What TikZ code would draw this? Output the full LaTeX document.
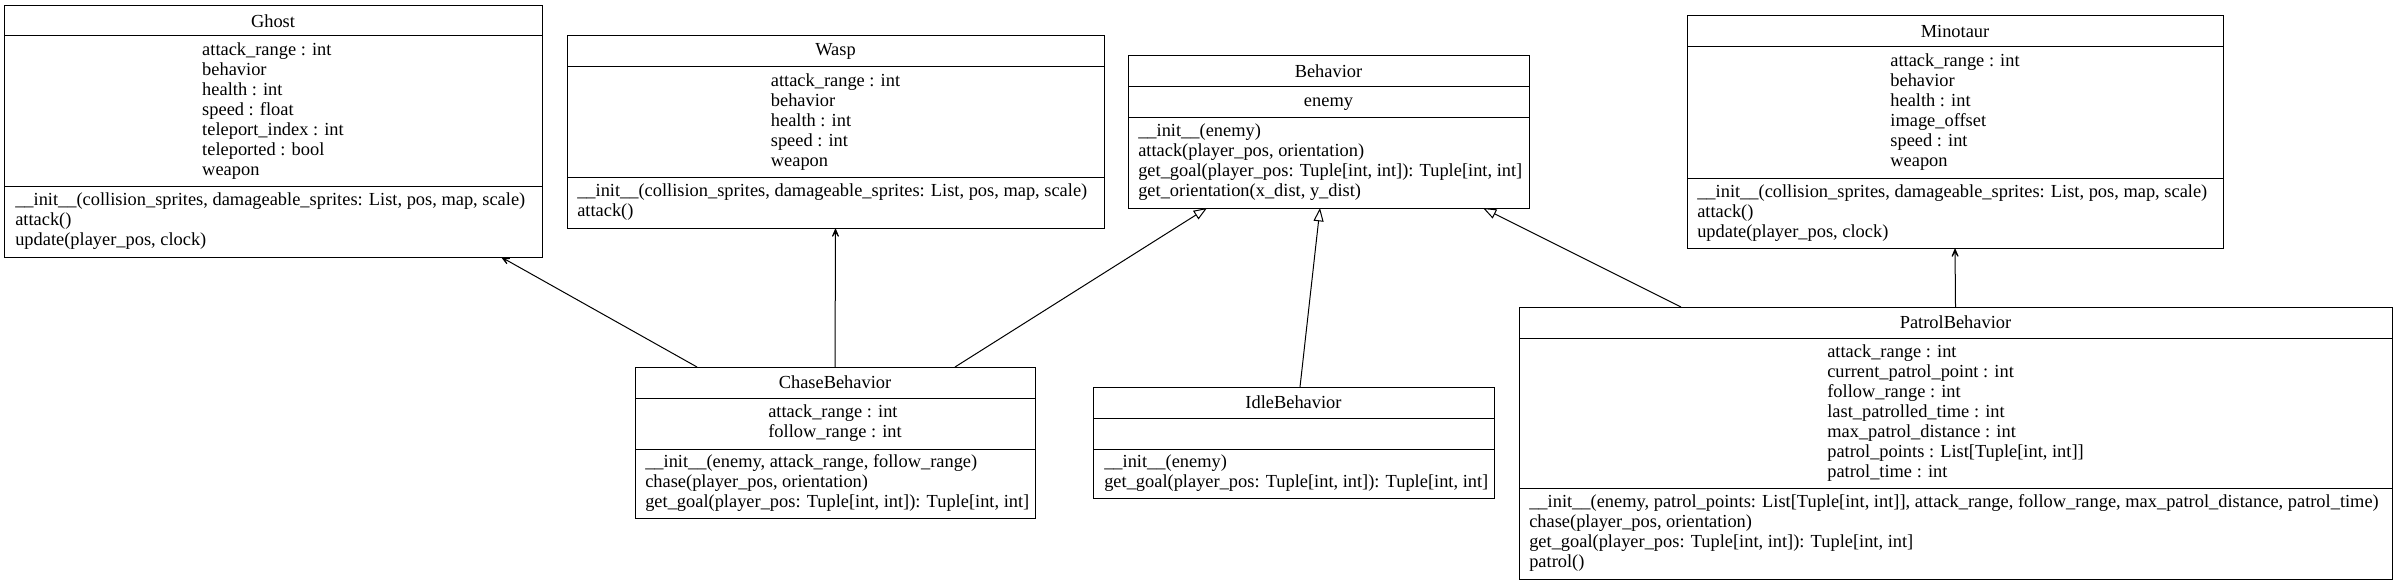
\documentclass[tikz,border=0pt]{standalone}
\usepackage{fontspec}
\setmainfont{Liberation Serif}
\usetikzlibrary{arrows.meta,calc}
\begin{document}
\begin{tikzpicture}[x=0.75pt,y=-0.75pt,
  umlbox/.style={draw=black,line width=0.75pt,inner sep=0pt,outer sep=0pt,anchor=north west},
  sepline/.style={draw=black,line width=0.75pt},
  txt/.style={inner sep=0pt,font=\fontsize{13.8pt}{15pt}\selectfont},
  ttl/.style={txt,anchor=center},
  attrs/.style={txt,align=left,anchor=center},
  meths/.style={txt,align=left,anchor=west},
  assoc/.style={line width=0.75pt,-{Stealth[length=10pt,width=8.5pt,inset=6.5pt]}},
  inherit/.style={line width=0.75pt,-{Triangle[open,length=10pt,width=7.5pt,fill=white]}}]
\useasboundingbox (0,0) rectangle (2397,585);

% Ghost
\node[umlbox,minimum width=403.5pt,minimum height=188.25pt] (ghost) at (4,6) {};
\draw[sepline] (4,36) -- (542,36);
\draw[sepline] (4,186) -- (542,186);
\node[ttl] (ghostT) at (273,21) {Ghost};
\node[attrs] (ghostA) at (273,111) {\strut attack\_range : int\\behavior\\health : int\\speed : float\\teleport\_index : int\\teleported : bool\\weapon\strut};
\node[meths] (ghostM) at (15,221.5) {\strut\_\_init\_\_(collision\_sprites, damageable\_sprites: List, pos, map, scale)\\attack()\\update(player\_pos, clock)\strut};

% Wasp
\node[umlbox,minimum width=402.75pt,minimum height=144pt] (wasp) at (567,36) {};
\draw[sepline] (567,67) -- (1104,67);
\draw[sepline] (567,177) -- (1104,177);
\node[ttl] (waspT) at (835.5,51.5) {Wasp};
\node[attrs] (waspA) at (835.5,122) {\strut attack\_range : int\\behavior\\health : int\\speed : int\\weapon\strut};
\node[meths] (waspM) at (577,202.5) {\strut\_\_init\_\_(collision\_sprites, damageable\_sprites: List, pos, map, scale)\\attack()\strut};

% Behavior
\node[umlbox,minimum width=300.75pt,minimum height=114pt] (behavior) at (1128,56) {};
\draw[sepline] (1128,87) -- (1529,87);
\draw[sepline] (1128,117) -- (1529,117);
\node[ttl] (behaviorT) at (1328.5,71.5) {Behavior};
\node[attrs] (behaviorA) at (1328.5,102) {\strut enemy\strut};
\node[meths] (behaviorM) at (1138,162.5) {\strut\_\_init\_\_(enemy)\\attack(player\_pos, orientation)\\get\_goal(player\_pos: Tuple[int, int]): Tuple[int, int]\\get\_orientation(x\_dist, y\_dist)\strut};

% Minotaur
\node[umlbox,minimum width=402pt,minimum height=174pt] (minotaur) at (1687,16) {};
\draw[sepline] (1687,47) -- (2223,47);
\draw[sepline] (1687,178) -- (2223,178);
\node[ttl] (minotaurT) at (1955,31.5) {Minotaur};
\node[attrs] (minotaurA) at (1955,112.5) {\strut attack\_range : int\\behavior\\health : int\\image\_offset\\speed : int\\weapon\strut};
\node[meths] (minotaurM) at (1697,213) {\strut\_\_init\_\_(collision\_sprites, damageable\_sprites: List, pos, map, scale)\\attack()\\update(player\_pos, clock)\strut};

% ChaseBehavior
\node[umlbox,minimum width=300pt,minimum height=113.25pt] (chase) at (635,367) {};
\draw[sepline] (635,398) -- (1035,398);
\draw[sepline] (635,449) -- (1035,449);
\node[ttl] (chaseT) at (835,382.5) {ChaseBehavior};
\node[attrs] (chaseA) at (835,423.5) {\strut attack\_range : int\\follow\_range : int\strut};
\node[meths] (chaseM) at (645,483.5) {\strut\_\_init\_\_(enemy, attack\_range, follow\_range)\\chase(player\_pos, orientation)\\get\_goal(player\_pos: Tuple[int, int]): Tuple[int, int]\strut};

% IdleBehavior
\node[umlbox,minimum width=300.75pt,minimum height=83.25pt] (idle) at (1093,387) {};
\draw[sepline] (1093,418) -- (1494,418);
\draw[sepline] (1093,449) -- (1494,449);
\node[ttl] (idleT) at (1293.5,402.5) {IdleBehavior};
\node[meths] (idleM) at (1104,473.5) {\strut\_\_init\_\_(enemy)\\get\_goal(player\_pos: Tuple[int, int]): Tuple[int, int]\strut};

% PatrolBehavior
\node[umlbox,minimum width=654.75pt,minimum height=204pt] (patrol) at (1519,307) {};
\draw[sepline] (1519,338) -- (2392,338);
\draw[sepline] (1519,488) -- (2392,488);
\node[ttl] (patrolT) at (1955.5,322.5) {PatrolBehavior};
\node[attrs] (patrolA) at (1955.5,413) {\strut attack\_range : int\\current\_patrol\_point : int\\follow\_range : int\\last\_patrolled\_time : int\\max\_patrol\_distance : int\\patrol\_points : List[Tuple[int, int]]\\patrol\_time : int\strut};
\node[meths] (patrolM) at (1529,533.5) {\strut\_\_init\_\_(enemy, patrol\_points: List[Tuple[int, int]], attack\_range, follow\_range, max\_patrol\_distance, patrol\_time)\\chase(player\_pos, orientation)\\get\_goal(player\_pos: Tuple[int, int]): Tuple[int, int]\\patrol()\strut};

% connectors
\draw[assoc] ($(chase.north west)+(62,0)$) -- ($(ghost.south west)+(497,0)$);
\draw[assoc] (chase.north) -- (wasp.south);
\draw[inherit] ($(chase.north west)+(320,0)$) -- ($(behavior.south west)+(79,0)$);
\draw[inherit] ($(idle.north west)+(207,0)$) -- ($(behavior.south west)+(192,0)$);
\draw[inherit] ($(patrol.north west)+(162,0)$) -- ($(behavior.south west)+(355,0)$);
\draw[assoc] (patrol.north) -- (minotaur.south);
\end{tikzpicture}
\end{document}
